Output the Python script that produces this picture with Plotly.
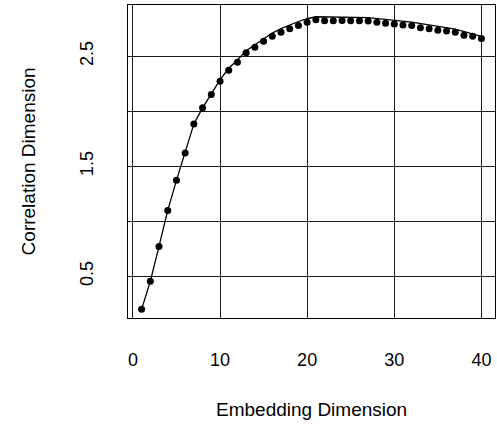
import plotly.graph_objects as go

# Correlation dimension estimates for embedding dimensions 1..40
embedding_dim = list(range(1, 41))
corr_dim_points = [
    0.200, 0.453, 0.771, 1.098, 1.371, 1.620, 1.884, 2.030, 2.152, 2.273,
    2.373, 2.445, 2.531, 2.582, 2.636, 2.682, 2.718, 2.749, 2.779, 2.809,
    2.830, 2.822, 2.822, 2.823, 2.822, 2.821, 2.820, 2.808, 2.800, 2.792,
    2.784, 2.778, 2.758, 2.748, 2.736, 2.728, 2.718, 2.690, 2.680, 2.660,
]

# Connecting curve
curve_x = list(range(1, 22)) + [27, 32, 37, 40]
curve_y = [
    0.200, 0.453, 0.771, 1.098, 1.371, 1.620, 1.884, 2.030, 2.160, 2.285,
    2.390, 2.465, 2.550, 2.605, 2.660, 2.710, 2.750, 2.785, 2.815, 2.840,
    2.858, 2.850, 2.810, 2.745, 2.680,
]

x_ticks = [0, 10, 20, 30, 40]
y_grid = [0.5, 1.0, 1.5, 2.0, 2.5]
y_tick_text = ["0.5", "", "1.5", "", "2.5"]

FONT = "Liberation Sans, Arial, sans-serif"

fig = go.Figure()
fig.add_trace(go.Scatter(
    x=curve_x, y=curve_y, mode="lines",
    line=dict(color="black", width=1.3), hoverinfo="skip",
))
fig.add_trace(go.Scatter(
    x=embedding_dim, y=corr_dim_points, mode="markers",
    marker=dict(color="black", size=7),
))

fig.update_layout(
    width=497, height=427,
    margin=dict(l=128, r=2, t=5, b=109),
    paper_bgcolor="white", plot_bgcolor="white",
    showlegend=False,
    font=dict(family=FONT, size=18, color="black"),
    xaxis=dict(
        range=[-0.56, 41.56], tickvals=x_ticks,
        showgrid=True, gridcolor="#1a1a1a", gridwidth=1,
        zeroline=False, showline=True, linecolor="black", linewidth=1,
        mirror=True, ticks="", ticklabelstandoff=25,
        tickfont=dict(family=FONT, size=18, color="black"),
    ),
    yaxis=dict(
        range=[0.12, 2.965], tickvals=y_grid, ticktext=y_tick_text,
        showgrid=True, gridcolor="#1a1a1a", gridwidth=1,
        zeroline=False, showline=True, linecolor="black", linewidth=1,
        mirror=True, ticks="", tickangle=-90, ticklabelstandoff=27,
        tickfont=dict(family=FONT, size=18, color="black"),
    ),
    annotations=[
        dict(text="Embedding Dimension", xref="paper", yref="paper",
             x=0.5, y=-0.293, xanchor="center", yanchor="middle",
             showarrow=False, font=dict(family=FONT, size=19, color="black")),
        dict(text="Correlation Dimension", xref="paper", yref="paper",
             x=-0.27, y=0.5, xanchor="center", yanchor="middle",
             textangle=-90, showarrow=False,
             font=dict(family=FONT, size=19, color="black")),
    ],
)

fig.write_html("out.html")
